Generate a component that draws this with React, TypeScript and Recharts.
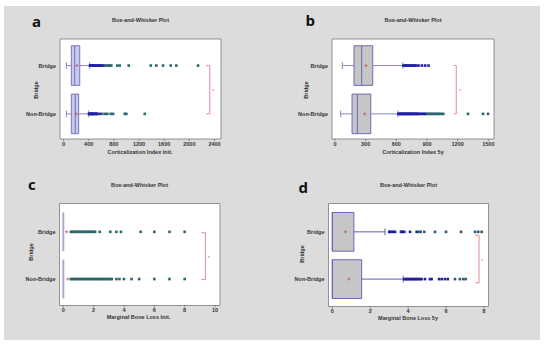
import React from "react";
import {
  ComposedChart,
  XAxis,
  YAxis,
  Scatter,
  ReferenceArea,
  ReferenceLine,
  ReferenceDot,
} from "recharts";

const FONT = "'Liberation Sans', Arial, sans-serif";

// categories and their numeric positions on the value axis
const categories = ["Bridge", "Non-Bridge"];
const categoryY = [1, 0];

// ---------- panel a : Corticalization Index Init. ----------
const aXTicks = [0, 400, 800, 1200, 1600, 2000, 2400];
const aMinorTicks = [0, 200, 400, 600, 800, 1000, 1200, 1400, 1600, 1800, 2000, 2200, 2400];
const aWhiskerLow = [45, 45];
const aQ1 = [124, 124];
const aMedian = [177, 187];
const aQ3 = [258, 241];
const aWhiskerHigh = [415, 399];
const aMean = [215, 200];
const aOutBridge = [420, 432, 445, 458, 470, 485, 500, 515, 530, 545, 560, 578, 595, 612, 640, 665, 696, 720, 740, 760, 855, 893, 1037, 1386, 1475, 1582, 1704, 1793, 2138];
const aOutNonBridge = [405, 415, 425, 435, 445, 455, 465, 475, 487, 500, 512, 525, 537, 575, 612, 655, 696, 750, 787, 973, 998, 1291];
const aBracket = [2266, 2324, 2377];
const aBracketY = [1, 0];

// ---------- panel b : Corticalization Index 5y ----------
const bXTicks = [0, 300, 600, 900, 1200, 1500];
const bMinorTicks = [0, 150, 300, 450, 600, 750, 900, 1050, 1200, 1350, 1500];
const bWhiskerLow = [72, 56];
const bQ1 = [186, 167];
const bMedian = [261, 219];
const bQ3 = [369, 350];
const bWhiskerHigh = [663, 615];
const bMean = [304, 291];
const bOutBridge = [670, 682, 694, 706, 719, 731, 743, 756, 768, 781, 794, 817, 850, 882, 915];
const bOutNonBridge = [620, 628, 636, 644, 652, 660, 668, 676, 684, 692, 700, 708, 716, 724, 732, 740, 748, 756, 764, 772, 780, 790, 800, 810, 817, 833, 848, 862, 876, 890, 904, 918, 932, 946, 960, 975, 990, 1005, 1020, 1035, 1059, 1301, 1448, 1497];
const bBracket = [1160, 1186, 1225];
const bBracketY = [1, 0];

// ---------- panel c : Marginal Bone Loss Init. ----------
const cXTicks = [0, 2, 4, 6, 8, 10];
const cMinorTicks = [0, 1, 2, 3, 4, 5, 6, 7, 8, 9, 10];
const cWhiskerLow = [0, 0];
const cQ1 = [0, 0];
const cMedian = [0, 0];
const cQ3 = [0, 0];
const cWhiskerHigh = [0, 0];
const cMean = [0.22, 0.3];
const cOutBridge = [0.5, 0.6, 0.7, 0.8, 0.9, 1.0, 1.1, 1.2, 1.3, 1.4, 1.5, 1.6, 1.7, 1.8, 1.9, 2.0, 2.1, 2.4, 3.1, 3.5, 3.8, 5.1, 6.0, 7.0, 8.0];
const cOutNonBridge = [0.5, 0.6, 0.7, 0.8, 0.9, 1.0, 1.1, 1.2, 1.3, 1.4, 1.5, 1.6, 1.7, 1.8, 1.9, 2.0, 2.1, 2.2, 2.3, 2.4, 2.5, 2.6, 2.7, 2.8, 2.9, 3.0, 3.1, 3.2, 3.5, 3.7, 4.0, 4.5, 5.0, 6.0, 7.0, 8.0];
const cBracket = [9.1, 9.37, 9.6];
const cBracketY = [0.98, -0.01];

// ---------- panel d : Marginal Bone Loss 5y ----------
const dXTicks = [0, 2, 4, 6, 8];
const dMinorTicks = [0, 1, 2, 3, 4, 5, 6, 7, 8];
const dWhiskerLow = [0, 0];
const dQ1 = [0, 0];
const dMedian = [0, 0];
const dQ3 = [1.14, 1.55];
const dWhiskerHigh = [2.78, 3.74];
const dMean = [0.7, 0.88];
const dOutBridge = [3.0, 3.05, 3.13, 3.22, 3.31, 3.62, 3.67, 3.71, 3.8, 4.1, 4.45, 4.57, 4.66, 4.85, 5.42, 6.0, 6.79, 7.53, 7.7, 7.88];
const dOutNonBridge = [3.8, 3.87, 3.93, 4.0, 4.07, 4.13, 4.2, 4.27, 4.33, 4.4, 4.47, 4.55, 4.63, 4.71, 4.89, 5.15, 5.24, 5.63, 5.77, 5.94, 6.09, 6.47, 6.73, 6.91, 7.04];
const dBracket = [7.53, 7.74, 7.91];
const dBracketY = [0.93, -0.08];

type PanelProps = {
  frame: [number, number, number, number]; // left, top, width, height
  plot: [number, number, number, number]; // x0, x1, y0, y1 (page px)
  xDomain: [number, number];
  yDomain: [number, number];
  ticks: number[];
  minor: number[];
  tickMargin: number;
  lo: number[];
  q1: number[];
  med: number[];
  q3: number[];
  hi: number[];
  mean: number[];
  outliers: number[][];
  bracket: number[];
  bracketY: number[];
  boxFill: string;
  boxStroke: string;
  whisker: string;
  nearColor: string;
  farColor: string;
};

const HALF = 0.41;
const CAP = 0.07;

function Panel(p: PanelProps) {
  const [left, top, width, height] = p.frame;
  const [px0, px1, py0, py1] = p.plot;
  const near: { x: number; y: number }[] = [];
  const far: { x: number; y: number }[] = [];
  const means: { x: number; y: number }[] = [];
  const els: React.ReactNode[] = [];
  categoryY.forEach((y, i) => {
    const q1 = p.q1[i];
    const q3 = p.q3[i];
    const lim = q3 + 3 * (q3 - q1);
    p.outliers[i].forEach((v) => (v > lim ? far : near).push({ x: v, y }));
    means.push({ x: p.mean[i], y });
    if (p.lo[i] < q1) {
      els.push(
        <ReferenceLine key={`wl${i}`} segment={[{ x: p.lo[i], y }, { x: q1, y }]} stroke={p.whisker} strokeWidth={0.9} />,
        <ReferenceLine key={`cl${i}`} segment={[{ x: p.lo[i], y: y - CAP }, { x: p.lo[i], y: y + CAP }]} stroke={p.whisker} strokeWidth={0.9} />
      );
    }
    if (p.hi[i] > q3) {
      els.push(
        <ReferenceLine key={`wh${i}`} segment={[{ x: q3, y }, { x: p.hi[i], y }]} stroke={p.whisker} strokeWidth={0.9} />,
        <ReferenceLine key={`ch${i}`} segment={[{ x: p.hi[i], y: y - CAP }, { x: p.hi[i], y: y + CAP }]} stroke={p.whisker} strokeWidth={0.9} />
      );
    }
    if (q3 > q1) {
      els.push(
        <ReferenceArea key={`bx${i}`} x1={q1} x2={q3} y1={y - HALF} y2={y + HALF} fill={p.boxFill} fillOpacity={1} stroke={p.boxStroke} strokeWidth={0.9} />,
        <ReferenceLine key={`md${i}`} segment={[{ x: p.med[i], y: y - HALF }, { x: p.med[i], y: y + HALF }]} stroke={p.boxStroke} strokeWidth={0.9} />
      );
    } else {
      els.push(
        <ReferenceLine key={`zb${i}`} segment={[{ x: q1, y: y - HALF }, { x: q1, y: y + HALF }]} stroke="#a9a9d6" strokeWidth={2} />
      );
    }
  });
  const [bx0, bx, starX] = p.bracket;
  const [byT, byB] = p.bracketY;
  const red = "#dc6f7c";
  const square = (color: string) => (props: any) =>
    props.cx == null ? <g /> : <rect x={props.cx - 1.3} y={props.cy - 1.3} width={2.6} height={2.6} fill={color} />;
  const plus = (props: any) =>
    props.cx == null ? (
      <g />
    ) : (
      <path d={`M${props.cx - 1.5},${props.cy}H${props.cx + 1.5}M${props.cx},${props.cy - 1.5}V${props.cy + 1.5}`} stroke="#c05050" strokeWidth={0.8} />
    );
  const tickStyle = { fontSize: 5.5, fontWeight: "bold", fill: "#333", fontFamily: FONT };
  return (
    <div style={{ position: "absolute", left, top, width, height }}>
      <ComposedChart
        width={width}
        height={height}
        margin={{ top: py0 - top, right: left + width - px1, bottom: 0, left: 0 }}
      >
        <XAxis
          type="number"
          dataKey="x"
          domain={p.xDomain}
          allowDataOverflow
          ticks={p.ticks}
          interval={0}
          height={top + height - py1}
          tickSize={2}
          tickMargin={p.tickMargin}
          axisLine={false}
          tickLine={{ stroke: "#555", strokeWidth: 0.6 }}
          tick={tickStyle}
        />
        <XAxis
          xAxisId="top"
          orientation="top"
          type="number"
          domain={p.xDomain}
          allowDataOverflow
          ticks={p.minor}
          interval={0}
          height={0}
          mirror
          tick={false}
          tickSize={2}
          axisLine={false}
          tickLine={{ stroke: "#666", strokeWidth: 0.6 }}
        />
        <YAxis
          type="number"
          dataKey="y"
          domain={p.yDomain}
          allowDataOverflow
          ticks={categoryY}
          interval={0}
          width={px0 - left}
          tickSize={0}
          tickMargin={4}
          axisLine={false}
          tickLine={false}
          tickFormatter={(v: number) => categories[categoryY.indexOf(v)] ?? ""}
          tick={tickStyle}
        />
        <ReferenceArea
          x1={p.xDomain[0]}
          x2={p.xDomain[1]}
          y1={p.yDomain[0]}
          y2={p.yDomain[1]}
          fill="#ffffff"
          fillOpacity={1}
          stroke="#7a7a7a"
          strokeWidth={0.8}
        />
        {els}
        <ReferenceLine segment={[{ x: bx, y: byT }, { x: bx, y: byB }]} stroke={red} strokeWidth={0.8} />
        <ReferenceLine segment={[{ x: bx0, y: byT }, { x: bx, y: byT }]} stroke={red} strokeWidth={0.8} />
        <ReferenceLine segment={[{ x: bx0, y: byB }, { x: bx, y: byB }]} stroke={red} strokeWidth={0.8} />
        <ReferenceDot
          x={starX}
          y={(byT + byB) / 2}
          r={0.1}
          fill={red}
          stroke="none"
          label={{ value: "*", position: "center", fill: red, fontSize: 6, fontFamily: FONT, dy: 1.5 }}
        />
        <Scatter data={near} shape={square(p.nearColor)} isAnimationActive={false} />
        <Scatter data={far} shape={square(p.farColor)} isAnimationActive={false} />
        <Scatter data={means} shape={plus} isAnimationActive={false} />
      </ComposedChart>
    </div>
  );
}

const titleStyle = { fontSize: 5.5, fontWeight: "bold" as const, fill: "#333", fontFamily: FONT };
const letterStyle = { fontSize: 15, fontWeight: "bold" as const, fill: "#111", fontFamily: "'Open Sans', 'Noto Sans', sans-serif" };

export default function App() {
  return (
    <div style={{ position: "absolute", left: 0, top: 0, width: 550, height: 347, background: "#ffffff", overflow: "hidden" }}>
      <div style={{ position: "absolute", left: 4, top: 6, width: 536, height: 334, background: "#dcdcdc" }} />
      <Panel
        frame={[0, 0, 275, 170]}
        plot={[60, 221, 39, 139]}
        xDomain={[-56, 2503]}
        yDomain={[-0.52, 1.55]}
        ticks={aXTicks}
        minor={aMinorTicks}
        tickMargin={1.5}
        lo={aWhiskerLow}
        q1={aQ1}
        med={aMedian}
        q3={aQ3}
        hi={aWhiskerHigh}
        mean={aMean}
        outliers={[aOutBridge, aOutNonBridge]}
        bracket={aBracket}
        bracketY={aBracketY}
        boxFill="#c9c9ea"
        boxStroke="#6a6ac2"
        whisker="#7c7cba"
        nearColor="#1f1fa6"
        farColor="#2c6470"
      />
      <Panel
        frame={[275, 0, 275, 170]}
        plot={[332, 494, 39, 139]}
        xDomain={[-29, 1555]}
        yDomain={[-0.52, 1.55]}
        ticks={bXTicks}
        minor={bMinorTicks}
        tickMargin={1.5}
        lo={bWhiskerLow}
        q1={bQ1}
        med={bMedian}
        q3={bQ3}
        hi={bWhiskerHigh}
        mean={bMean}
        outliers={[bOutBridge, bOutNonBridge]}
        bracket={bBracket}
        bracketY={bBracketY}
        boxFill="#c6c6c6"
        boxStroke="#5c5cba"
        whisker="#7c7cba"
        nearColor="#1f1fa6"
        farColor="#2c6470"
      />
      <Panel
        frame={[0, 170, 275, 170]}
        plot={[59.5, 220, 203.5, 305.5]}
        xDomain={[-0.25, 10.33]}
        yDomain={[-0.56, 1.6]}
        ticks={cXTicks}
        minor={cMinorTicks}
        tickMargin={0.5}
        lo={cWhiskerLow}
        q1={cQ1}
        med={cMedian}
        q3={cQ3}
        hi={cWhiskerHigh}
        mean={cMean}
        outliers={[cOutBridge, cOutNonBridge]}
        bracket={cBracket}
        bracketY={cBracketY}
        boxFill="#c9c9ea"
        boxStroke="#6a6ac2"
        whisker="#7c7cba"
        nearColor="#2a7070"
        farColor="#2a6868"
      />
      <Panel
        frame={[275, 170, 275, 170]}
        plot={[328.5, 488.5, 203.5, 306.5]}
        xDomain={[-0.2, 8.24]}
        yDomain={[-0.58, 1.6]}
        ticks={dXTicks}
        minor={dMinorTicks}
        tickMargin={0.5}
        lo={dWhiskerLow}
        q1={dQ1}
        med={dMedian}
        q3={dQ3}
        hi={dWhiskerHigh}
        mean={dMean}
        outliers={[dOutBridge, dOutNonBridge]}
        bracket={dBracket}
        bracketY={dBracketY}
        boxFill="#c6c6c6"
        boxStroke="#5c5cba"
        whisker="#4a4aaa"
        nearColor="#1f1fa6"
        farColor="#2c5a78"
      />
      <svg width={550} height={347} style={{ position: "absolute", left: 0, top: 0, pointerEvents: "none" }}>
        <text x={32} y={26.7} {...letterStyle}>a</text>
        <text x={305.5} y={25.5} {...letterStyle}>b</text>
        <text x={28} y={190} {...letterStyle}>c</text>
        <text x={298.5} y={192.7} {...letterStyle}>d</text>

        <text x={140.5} y={20} textAnchor="middle" dominantBaseline="central" {...titleStyle}>Box-and-Whisker Plot</text>
        <text x={413} y={20} textAnchor="middle" dominantBaseline="central" {...titleStyle}>Box-and-Whisker Plot</text>
        <text x={139.5} y={185} textAnchor="middle" dominantBaseline="central" {...titleStyle}>Box-and-Whisker Plot</text>
        <text x={408.5} y={185} textAnchor="middle" dominantBaseline="central" {...titleStyle}>Box-and-Whisker Plot</text>

        <text x={140} y={152} textAnchor="middle" dominantBaseline="central" {...titleStyle}>Corticalization Index Init.</text>
        <text x={413} y={151.7} textAnchor="middle" dominantBaseline="central" {...titleStyle}>Corticalization Index 5y</text>
        <text x={138.5} y={316.7} textAnchor="middle" dominantBaseline="central" {...titleStyle}>Marginal Bone Loss Init.</text>
        <text x={408} y={317.7} textAnchor="middle" dominantBaseline="central" {...titleStyle}>Marginal Bone Loss 5y</text>

        <text transform="translate(35.7,90) rotate(-90)" textAnchor="middle" dominantBaseline="central" {...titleStyle}>Bridge</text>
        <text transform="translate(305.7,90) rotate(-90)" textAnchor="middle" dominantBaseline="central" {...titleStyle}>Bridge</text>
        <text transform="translate(30.7,252) rotate(-90)" textAnchor="middle" dominantBaseline="central" {...titleStyle}>Bridge</text>
        <text transform="translate(301.7,254) rotate(-90)" textAnchor="middle" dominantBaseline="central" {...titleStyle}>Bridge</text>
      </svg>
    </div>
  );
}
